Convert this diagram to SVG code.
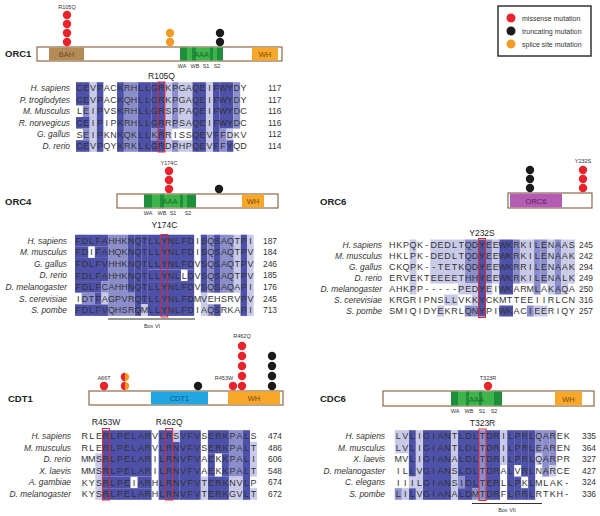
<svg xmlns="http://www.w3.org/2000/svg" width="600" height="516" viewBox="0 0 600 516">
<style>
text{font-family:"Liberation Sans",Arial,sans-serif}
.sp{font-size:8.4px;font-style:italic;fill:#333;text-anchor:end}
.aa{font-size:9px;fill:#333;text-anchor:middle}
.num{font-size:8.4px;fill:#333}
.mut{font-size:8.5px;fill:#222;text-anchor:middle}
.sm{font-size:5.5px;fill:#333;text-anchor:middle}
.pl{font-size:9.5px;font-weight:bold;fill:#222}
.dl{font-size:7.5px;text-anchor:middle}
.lg{font-size:7px;fill:#333}
.d{fill:#4d51a9}.m{fill:#8c8ecb}.l{fill:#c9cae7}
.rb{fill:none;stroke:#e3242b;stroke-width:1}
.bar{fill:#fff;stroke:#8b6a48;stroke-width:1.2}
.red{fill:#e8232b}.blk{fill:#1b1b1b}.org{fill:#f49b25}
.aaa{fill:#3db54a}.aad{fill:#1f8f3c}.wh{fill:#f7a72a}
.ln{stroke:#333;stroke-width:1.2}
</style>

<g id="legend">
<rect x="498" y="6" width="93" height="50" fill="#fff" stroke="#333" stroke-width="1.5"/>
<circle class="red" cx="511" cy="18" r="4.5"/>
<circle class="blk" cx="511" cy="31" r="4.5"/>
<circle class="org" cx="511" cy="44" r="4.5"/>
<text class="lg" x="522" y="20.5">missense mutation</text>
<text class="lg" x="522" y="33.5">truncating mutation</text>
<text class="lg" x="522" y="46.5">splice site mutation</text>
</g>

<g id="orc1">
<text class="pl" x="5" y="57">ORC1</text>
<rect class="bar" x="37" y="47" width="245" height="14"/>
<rect x="49" y="47.6" width="35" height="12.8" fill="#b48a55"/>
<text class="dl" x="66.5" y="57" fill="#6b4a28">BAH</text>
<rect class="aaa" x="180" y="47.6" width="43" height="12.8"/>
<rect class="aad" x="180" y="47.6" width="7" height="12.8"/>
<rect class="aad" x="192" y="47.6" width="4" height="12.8"/>
<rect class="aad" x="210" y="47.6" width="3" height="12.8"/>
<rect class="aad" x="217" y="47.6" width="6" height="12.8"/>
<text class="dl" x="201.5" y="57" fill="#1a6a2a">AAA</text>
<rect class="wh" x="252" y="47.6" width="26" height="12.8"/>
<text class="dl" x="265" y="57" fill="#7a4a10">WH</text>
<text class="sm" x="182" y="68">WA</text><text class="sm" x="195" y="68">WB</text><text class="sm" x="206" y="68">S1</text><text class="sm" x="217" y="68">S2</text>
<text class="sm" x="67" y="9">R105Q</text>
<circle class="red" cx="67" cy="15" r="4.2"/><circle class="red" cx="67" cy="24" r="4.2"/><circle class="red" cx="67" cy="33" r="4.2"/><circle class="red" cx="67" cy="42" r="4.2"/>
<circle class="org" cx="170" cy="33" r="4.2"/><circle class="org" cx="170" cy="42" r="4.2"/>
<circle class="blk" cx="220" cy="33" r="4.2"/><circle class="blk" cx="220" cy="42" r="4.2"/>
</g>

<g id="orc1-align">
<g transform="translate(76 82.2) scale(6.84 11.6)">
<g class="d"><rect x="0" y="0" width="2" height="2"/><rect x="0" y="3" width="2" height="1"/><rect x="0" y="5" width="2" height="1"/><rect x="3" y="0" width="1" height="6"/><rect x="6" y="0" width="1" height="6"/><rect x="9" y="0" width="2" height="6"/><rect x="11" y="0" width="2" height="4"/><rect x="11" y="5" width="2" height="1"/><rect x="12" y="4" width="1" height="1"/><rect x="17" y="0" width="2" height="6"/><rect x="20" y="0" width="1" height="6"/><rect x="21" y="0" width="2" height="4"/><rect x="22" y="5" width="1" height="1"/></g>
<g class="m"><rect x="1" y="2" width="1" height="1"/><rect x="1" y="4" width="1" height="1"/><rect x="7" y="0" width="2" height="6"/><rect x="11" y="4" width="1" height="1"/><rect x="14" y="0" width="1" height="4"/><rect x="14" y="5" width="1" height="1"/><rect x="21" y="4" width="1" height="2"/><rect x="23" y="0" width="1" height="4"/></g>
<g class="l"><rect x="2" y="0" width="1" height="6"/><rect x="13" y="0" width="1" height="6"/><rect x="15" y="0" width="2" height="4"/><rect x="15" y="5" width="2" height="1"/><rect x="19" y="0" width="1" height="6"/><rect x="22" y="4" width="1" height="1"/></g>
</g>
<text class="mut" x="161.5" y="79">R105Q</text>
<text class="sp" x="70" y="91">H. sapiens</text>
<text class="sp" x="70" y="102.6">P. troglodytes</text>
<text class="sp" x="70" y="114.2">M. Musculus</text>
<text class="sp" x="70" y="125.8">R. norvegicus</text>
<text class="sp" x="70" y="137.4">G. gallus</text>
<text class="sp" x="70" y="149">D. rerio</text>
<text class="aa" y="91.2" x="79.4 86.2 93.1 99.9 106.8 113.6 120.4 127.3 134.1 141 147.8 154.6 161.5 168.3 175.2 182 188.8 195.7 202.5 209.4 216.2 223 229.9 236.7 243.6">CEVPACKRHLLGRKPGAQEIFWYDY</text>
<text class="aa" y="102.8" x="79.4 86.2 93.1 99.9 106.8 113.6 120.4 127.3 134.1 141 147.8 154.6 161.5 168.3 175.2 182 188.8 195.7 202.5 209.4 216.2 223 229.9 236.7 243.6">CEVPACKQHLLGRKPGAQEIFWYDY</text>
<text class="aa" y="114.4" x="79.4 86.2 93.1 99.9 106.8 113.6 120.4 127.3 134.1 141 147.8 154.6 161.5 168.3 175.2 182 188.8 195.7 202.5 209.4 216.2 223 229.9 236.7 243.6">LEIPVSKRHLLGRSPPAQEIFWYDC</text>
<text class="aa" y="126" x="79.4 86.2 93.1 99.9 106.8 113.6 120.4 127.3 134.1 141 147.8 154.6 161.5 168.3 175.2 182 188.8 195.7 202.5 209.4 216.2 223 229.9 236.7 243.6">CEIPIPKRHLLGRRPSAQEIFWYDC</text>
<text class="aa" y="137.6" x="79.4 86.2 93.1 99.9 106.8 113.6 120.4 127.3 134.1 141 147.8 154.6 161.5 168.3 175.2 182 188.8 195.7 202.5 209.4 216.2 223 229.9 236.7 243.6">SEIPKNKQKLLKRRISSQEVFFDKV</text>
<text class="aa" y="149.2" x="79.4 86.2 93.1 99.9 106.8 113.6 120.4 127.3 134.1 141 147.8 154.6 161.5 168.3 175.2 182 188.8 195.7 202.5 209.4 216.2 223 229.9 236.7 243.6">CEVPQYKRKLLGRDPHPQEVFFYQD</text>
<text class="num" x="268" y="91">117</text><text class="num" x="268" y="102.6">117</text><text class="num" x="268" y="114.2">116</text><text class="num" x="268" y="125.8">116</text><text class="num" x="268" y="137.4">112</text><text class="num" x="268" y="149">114</text>
<rect class="rb" x="158.1" y="82" width="6.84" height="70"/>
</g>

<g id="orc4">
<text class="pl" x="5" y="205">ORC4</text>
<rect class="bar" x="117" y="194" width="161" height="14"/>
<rect class="aaa" x="144" y="194.6" width="52" height="12.8"/>
<rect class="aad" x="144" y="194.6" width="8" height="12.8"/>
<rect class="aad" x="160" y="194.6" width="4" height="12.8"/>
<rect class="aad" x="180" y="194.6" width="3" height="12.8"/>
<rect class="aad" x="187" y="194.6" width="9" height="12.8"/>
<text class="dl" x="170" y="204" fill="#1a6a2a">AAA</text>
<rect class="wh" x="242" y="194.6" width="22" height="12.8"/>
<text class="dl" x="253" y="204" fill="#7a4a10">WH</text>
<text class="sm" x="148" y="215">WA</text><text class="sm" x="162" y="215">WB</text><text class="sm" x="173" y="215">S1</text><text class="sm" x="188" y="215">S2</text>
<text class="sm" x="169" y="165">Y174C</text>
<circle class="red" cx="169" cy="171" r="4.2"/><circle class="red" cx="169" cy="180" r="4.2"/><circle class="red" cx="169" cy="189" r="4.2"/>
<circle class="blk" cx="219" cy="189" r="4.2"/>
</g>

<g id="orc4-align">
<g transform="translate(75 234.7) scale(6.62 11.6)">
<g class="d"><rect x="0" y="0" width="5" height="1"/><rect x="0" y="1" width="2" height="1"/><rect x="3" y="1" width="2" height="1"/><rect x="0" y="2" width="5" height="2"/><rect x="0" y="4" width="4" height="1"/><rect x="3" y="5" width="1" height="1"/><rect x="0" y="6" width="5" height="1"/><rect x="8" y="0" width="1" height="5"/><rect x="9" y="0" width="1" height="7"/><rect x="10" y="0" width="1" height="6"/><rect x="11" y="0" width="7" height="3"/><rect x="11" y="3" width="5" height="1"/><rect x="17" y="3" width="1" height="1"/><rect x="11" y="4" width="7" height="3"/><rect x="19" y="0" width="1" height="5"/><rect x="21" y="0" width="1" height="5"/><rect x="21" y="6" width="1" height="1"/><rect x="25" y="0" width="1" height="7"/></g>
<g class="m"><rect x="4" y="4" width="1" height="1"/><rect x="5" y="0" width="3" height="7"/><rect x="8" y="5" width="1" height="2"/><rect x="1" y="5" width="2" height="1"/><rect x="20" y="0" width="1" height="5"/><rect x="20" y="6" width="1" height="1"/><rect x="22" y="0" width="2" height="5"/></g>
<g class="l"><rect x="4" y="5" width="1" height="1"/><rect x="10" y="6" width="1" height="1"/><rect x="19" y="5" width="1" height="2"/><rect x="24" y="0" width="1" height="5"/><rect x="26" y="0" width="1" height="7"/></g>
</g>
<text class="mut" x="164.4" y="228">Y174C</text>
<text class="sp" x="67" y="243.5">H. sapiens</text>
<text class="sp" x="67" y="255.1">M. musculus</text>
<text class="sp" x="67" y="266.7">G. gallus</text>
<text class="sp" x="67" y="278.3">D. rerio</text>
<text class="sp" x="67" y="289.9">D. melanogaster</text>
<text class="sp" x="67" y="301.5">S. cerevisiae</text>
<text class="sp" x="67" y="313.1">S. pombe</text>
<text class="aa" y="243.7" x="78.3 84.9 91.5 98.2 104.8 111.4 118 124.6 131.3 137.9 144.5 151.1 157.7 164.4 171 177.6 184.2 190.8 197.5 204.1 210.7 217.3 223.9 230.6 237.2 243.8 250.4">FDLFAHHKNQTLLYNLFDISQSAQTPI</text>
<text class="aa" y="255.3" x="78.3 84.9 91.5 98.2 104.8 111.4 118 124.6 131.3 137.9 144.5 151.1 157.7 164.4 171 177.6 184.2 190.8 197.5 204.1 210.7 217.3 223.9 230.6 237.2 243.8 250.4">FDIFAHQKNQTLLYNLFDISQSAQTPV</text>
<text class="aa" y="266.9" x="78.3 84.9 91.5 98.2 104.8 111.4 118 124.6 131.3 137.9 144.5 151.1 157.7 164.4 171 177.6 184.2 190.8 197.5 204.1 210.7 217.3 223.9 230.6 237.2 243.8 250.4">FDLFVHHKNQTLLYNLFDVSQSAQTPV</text>
<text class="aa" y="278.5" x="78.3 84.9 91.5 98.2 104.8 111.4 118 124.6 131.3 137.9 144.5 151.1 157.7 164.4 171 177.6 184.2 190.8 197.5 204.1 210.7 217.3 223.9 230.6 237.2 243.8 250.4">FDLFAHHKNQTLLYNLLDVSQSAQTPV</text>
<text class="aa" y="290.1" x="78.3 84.9 91.5 98.2 104.8 111.4 118 124.6 131.3 137.9 144.5 151.1 157.7 164.4 171 177.6 184.2 190.8 197.5 204.1 210.7 217.3 223.9 230.6 237.2 243.8 250.4">FDLFCAHHNQTLLYNLFDVSQSAQAPI</text>
<text class="aa" y="301.7" x="78.3 84.9 91.5 98.2 104.8 111.4 118 124.6 131.3 137.9 144.5 151.1 157.7 164.4 171 177.6 184.2 190.8 197.5 204.1 210.7 217.3 223.9 230.6 237.2 243.8 250.4">IDTFAGPVRQTLLYNLFDMVEHSRVPV</text>
<text class="aa" y="313.3" x="78.3 84.9 91.5 98.2 104.8 111.4 118 124.6 131.3 137.9 144.5 151.1 157.7 164.4 171 177.6 184.2 190.8 197.5 204.1 210.7 217.3 223.9 230.6 237.2 243.8 250.4">FDLFVQHSRQMLLYNLFDIAQSRKAPI</text>
<text class="num" x="263" y="243.5">187</text><text class="num" x="263" y="255.1">184</text><text class="num" x="263" y="266.7">246</text><text class="num" x="263" y="278.3">185</text><text class="num" x="263" y="289.9">176</text><text class="num" x="263" y="301.5">245</text><text class="num" x="263" y="313.1">713</text>
<rect class="rb" x="161.1" y="234.5" width="6.62" height="82.5"/>
<line class="ln" x1="108" y1="319" x2="195" y2="319"/>
<text class="sm" x="152" y="328">Box VI</text>
</g>

<g id="orc6">
<text class="pl" x="320" y="205">ORC6</text>
<rect class="bar" x="508" y="193" width="84" height="15"/>
<rect x="510" y="193.6" width="52" height="13.8" fill="#b45cb4"/>
<text class="dl" x="536" y="203.5" fill="#5a1f5a">ORC6</text>
<text class="sm" x="583" y="163">Y232S</text>
<circle class="blk" cx="530" cy="170" r="4.2"/><circle class="blk" cx="530" cy="179" r="4.2"/><circle class="blk" cx="530" cy="188" r="4.2"/>
<circle class="red" cx="583" cy="170" r="4.2"/><circle class="red" cx="583" cy="179" r="4.2"/><circle class="red" cx="583" cy="188" r="4.2"/>
</g>

<g id="orc6-align">
<g transform="translate(388.85 239.5) scale(6.9 11)">
<g class="d"><rect x="13" y="0" width="1" height="7"/><rect x="16" y="0" width="2" height="5"/><rect x="16" y="6" width="2" height="1"/></g>
<g class="m"><rect x="11" y="0" width="2" height="4"/><rect x="11" y="6" width="2" height="1"/><rect x="14" y="0" width="1" height="4"/><rect x="18" y="0" width="1" height="4"/><rect x="21" y="0" width="1" height="5"/><rect x="22" y="0" width="1" height="4"/><rect x="24" y="0" width="1" height="5"/><rect x="20" y="6" width="1" height="1"/></g>
<g class="l"><rect x="3" y="0" width="1" height="5"/><rect x="6" y="0" width="5" height="4"/><rect x="15" y="0" width="1" height="4"/><rect x="19" y="0" width="2" height="4"/><rect x="23" y="0" width="1" height="5"/><rect x="25" y="0" width="1" height="5"/><rect x="26" y="0" width="1" height="4"/><rect x="10" y="4" width="3" height="1"/><rect x="14" y="4" width="1" height="1"/><rect x="8" y="5" width="2" height="1"/><rect x="12" y="5" width="1" height="1"/><rect x="7" y="6" width="1" height="1"/><rect x="21" y="6" width="2" height="1"/></g>
</g>
<text class="mut" x="482" y="236">Y232S</text>
<text class="sp" x="382" y="248">H. sapiens</text>
<text class="sp" x="382" y="259">M. musculus</text>
<text class="sp" x="382" y="270">G. gallus</text>
<text class="sp" x="382" y="281">D. rerio</text>
<text class="sp" x="382" y="292">D. melanogaster</text>
<text class="sp" x="382" y="303">S. cerevisiae</text>
<text class="sp" x="382" y="314">S. pombe</text>
<text class="aa" y="248.2" x="392.3 399.2 406.1 413 419.9 426.8 433.7 440.6 447.5 454.4 461.3 468.2 475.1 482 488.9 495.8 502.7 509.6 516.5 523.4 530.3 537.2 544.1 551 557.9 564.8 571.7">HKPQK-DEDLTQDYEEWKRKILENAAS</text>
<text class="aa" y="259.2" x="392.3 399.2 406.1 413 419.9 426.8 433.7 440.6 447.5 454.4 461.3 468.2 475.1 482 488.9 495.8 502.7 509.6 516.5 523.4 530.3 537.2 544.1 551 557.9 564.8 571.7">HKLPK-DEDLTQDYEEWKRKILENAAK</text>
<text class="aa" y="270.2" x="392.3 399.2 406.1 413 419.9 426.8 433.7 440.6 447.5 454.4 461.3 468.2 475.1 482 488.9 495.8 502.7 509.6 516.5 523.4 530.3 537.2 544.1 551 557.9 564.8 571.7">CKQPK--TETKQDYEEWKRRILENAAK</text>
<text class="aa" y="281.2" x="392.3 399.2 406.1 413 419.9 426.8 433.7 440.6 447.5 454.4 461.3 468.2 475.1 482 488.9 495.8 502.7 509.6 516.5 523.4 530.3 537.2 544.1 551 557.9 564.8 571.7">ERVEKTEEEETHHYEEWKRKILENALK</text>
<text class="aa" y="292.2" x="392.3 399.2 406.1 413 419.9 426.8 433.7 440.6 447.5 454.4 461.3 468.2 475.1 482 488.9 495.8 502.7 509.6 516.5 523.4 530.3 537.2 544.1 551 557.9 564.8 571.7">AHKPP-----PEDYEIWKARMLAKAQA</text>
<text class="aa" y="303.2" x="392.3 399.2 406.1 413 419.9 426.8 433.7 440.6 447.5 454.4 461.3 468.2 475.1 482 488.9 495.8 502.7 509.6 516.5 523.4 530.3 537.2 544.1 551 557.9 564.8 571.7">KRGRIPNSLLVKKYCKMTTEEIIRLCN</text>
<text class="aa" y="314.2" x="392.3 399.2 406.1 413 419.9 426.8 433.7 440.6 447.5 454.4 461.3 468.2 475.1 482 488.9 495.8 502.7 509.6 516.5 523.4 530.3 537.2 544.1 551 557.9 564.8 571.7">SMIQIDYEKRLQNYPIWKACIEERIQY</text>
<text class="num" x="579" y="248">245</text><text class="num" x="579" y="259">242</text><text class="num" x="579" y="270">294</text><text class="num" x="579" y="281">249</text><text class="num" x="579" y="292">250</text><text class="num" x="579" y="303">316</text><text class="num" x="579" y="314">257</text>
<rect class="rb" x="478.55" y="238.5" width="6.9" height="79"/>
</g>

<g id="cdt1">
<text class="pl" x="8" y="402">CDT1</text>
<rect class="bar" x="89" y="391" width="194" height="14"/>
<rect x="151" y="391.6" width="57" height="12.8" fill="#22a6e2"/>
<text class="dl" x="179.5" y="401" fill="#0d5a8a">CDT1</text>
<rect class="wh" x="228" y="391.6" width="52" height="12.8"/>
<text class="dl" x="254" y="401" fill="#7a4a10">WH</text>
<text class="sm" x="104" y="380">A66T</text>
<circle class="red" cx="104" cy="386" r="4.2"/>
<circle class="org" cx="125" cy="377" r="4.2"/><path class="red" d="M125 372.8A4.2 4.2 0 0 0 125 381.2Z"/>
<circle class="org" cx="125" cy="386" r="4.2"/><path class="red" d="M125 381.8A4.2 4.2 0 0 0 125 390.2Z"/>
<circle class="blk" cx="198" cy="386" r="4.2"/>
<text class="sm" x="224" y="380">R453W</text>
<circle class="red" cx="233" cy="386" r="4.2"/>
<text class="sm" x="242" y="338">R462Q</text>
<circle class="red" cx="242" cy="346" r="4.2"/><circle class="red" cx="242" cy="356" r="4.2"/><circle class="red" cx="242" cy="366" r="4.2"/><circle class="red" cx="242" cy="376" r="4.2"/><circle class="red" cx="242" cy="386" r="4.2"/>
<circle class="blk" cx="272" cy="356" r="4.2"/><circle class="blk" cx="272" cy="366" r="4.2"/><circle class="blk" cx="272" cy="376" r="4.2"/><circle class="blk" cx="272" cy="386" r="4.2"/>
</g>

<g id="cdt1-align">
<g transform="translate(81.3 430.2) scale(7.03 11.6)">
<g class="d"><rect x="3" y="0" width="7" height="4"/><rect x="3" y="4" width="4" height="1"/><rect x="8" y="4" width="2" height="1"/><rect x="3" y="5" width="7" height="1"/><rect x="11" y="0" width="2" height="6"/><rect x="13" y="1" width="1" height="5"/><rect x="14" y="0" width="3" height="6"/><rect x="18" y="0" width="3" height="2"/><rect x="18" y="2" width="1" height="2"/><rect x="20" y="2" width="1" height="2"/><rect x="18" y="4" width="3" height="2"/><rect x="23" y="0" width="1" height="6"/></g>
<g class="m"><rect x="21" y="0" width="2" height="4"/></g>
<g class="l"><rect x="2" y="2" width="1" height="4"/><rect x="13" y="0" width="1" height="1"/><rect x="17" y="4" width="1" height="2"/><rect x="21" y="4" width="2" height="2"/><rect x="24" y="1" width="1" height="3"/><rect x="24" y="5" width="1" height="1"/></g>
</g>
<text class="mut" x="106" y="425">R453W</text>
<text class="mut" x="169.2" y="425">R462Q</text>
<text class="sp" x="71" y="439">H. sapiens</text>
<text class="sp" x="71" y="450.6">M. musculus</text>
<text class="sp" x="71" y="462.2">D. rerio</text>
<text class="sp" x="71" y="473.8">X. laevis</text>
<text class="sp" x="71" y="485.4">A. gambiae</text>
<text class="sp" x="71" y="497">D. melanogaster</text>
<text class="aa" y="439.2" x="84.8 91.8 98.9 105.9 112.9 120 127 134 141 148.1 155.1 162.1 169.2 176.2 183.2 190.3 197.3 204.3 211.3 218.4 225.4 232.4 239.5 246.5 253.5">RLERLPELARVLRSVFVSERKPALS</text>
<text class="aa" y="450.8" x="84.8 91.8 98.9 105.9 112.9 120 127 134 141 148.1 155.1 162.1 169.2 176.2 183.2 190.3 197.3 204.3 211.3 218.4 225.4 232.4 239.5 246.5 253.5">RLERLPELARVLRNVFVSERKPALT</text>
<text class="aa" y="462.4" x="84.8 91.8 98.9 105.9 112.9 120 127 134 141 148.1 155.1 162.1 169.2 176.2 183.2 190.3 197.3 204.3 211.3 218.4 225.4 232.4 239.5 246.5 253.5">MMSRLPELARILRNVFVAEKKPALI</text>
<text class="aa" y="474" x="84.8 91.8 98.9 105.9 112.9 120 127 134 141 148.1 155.1 162.1 169.2 176.2 183.2 190.3 197.3 204.3 211.3 218.4 225.4 232.4 239.5 246.5 253.5">MMSRLPELARILRNVFVAEKKPALT</text>
<text class="aa" y="485.6" x="84.8 91.8 98.9 105.9 112.9 120 127 134 141 148.1 155.1 162.1 169.2 176.2 183.2 190.3 197.3 204.3 211.3 218.4 225.4 232.4 239.5 246.5 253.5">KYSRLPEIARHLRNVFVTERKNVLP</text>
<text class="aa" y="497.2" x="84.8 91.8 98.9 105.9 112.9 120 127 134 141 148.1 155.1 162.1 169.2 176.2 183.2 190.3 197.3 204.3 211.3 218.4 225.4 232.4 239.5 246.5 253.5">KYSRLPELARHLRNVFVTERKGVLT</text>
<text class="num" x="268" y="439">474</text><text class="num" x="268" y="450.6">486</text><text class="num" x="268" y="462.2">606</text><text class="num" x="268" y="473.8">548</text><text class="num" x="268" y="485.4">674</text><text class="num" x="268" y="497">672</text>
<rect class="rb" x="102.4" y="428.5" width="7.03" height="71.5"/>
<rect class="rb" x="165.66" y="428.5" width="7.03" height="71.5"/>
</g>

<g id="cdc6">
<text class="pl" x="320" y="402">CDC6</text>
<rect class="bar" x="383" y="391" width="211" height="15"/>
<rect class="aaa" x="451" y="391.6" width="51" height="13.8"/>
<rect class="aad" x="451" y="391.6" width="7" height="13.8"/>
<rect class="aad" x="466" y="391.6" width="3" height="13.8"/>
<rect class="aad" x="479" y="391.6" width="3" height="13.8"/>
<rect class="aad" x="494" y="391.6" width="8" height="13.8"/>
<text class="dl" x="476.5" y="401.5" fill="#1a6a2a">AAA</text>
<rect class="wh" x="555" y="391.6" width="27" height="13.8"/>
<text class="dl" x="568.5" y="401.5" fill="#7a4a10">WH</text>
<text class="sm" x="455" y="413">WA</text><text class="sm" x="469" y="413">WB</text><text class="sm" x="482" y="413">S1</text><text class="sm" x="494" y="413">S2</text>
<text class="sm" x="488" y="380">T323R</text>
<circle class="red" cx="488" cy="386" r="4.2"/>
</g>

<g id="cdc6-align">
<g transform="translate(394.8 430.2) scale(7.02 11.6)">
<g class="d"><rect x="2" y="0" width="1" height="4"/><rect x="2" y="5" width="1" height="1"/><rect x="4" y="0" width="4" height="6"/><rect x="9" y="0" width="1" height="4"/><rect x="9" y="5" width="1" height="1"/><rect x="10" y="0" width="1" height="6"/><rect x="11" y="0" width="1" height="5"/><rect x="13" y="0" width="2" height="6"/><rect x="16" y="0" width="1" height="6"/><rect x="17" y="0" width="1" height="3"/><rect x="17" y="4" width="1" height="2"/><rect x="18" y="0" width="1" height="4"/><rect x="18" y="5" width="1" height="1"/><rect x="19" y="0" width="1" height="6"/></g>
<g class="m"><rect x="0" y="5" width="1" height="1"/><rect x="9" y="4" width="1" height="1"/><rect x="11" y="5" width="1" height="1"/><rect x="12" y="0" width="1" height="6"/><rect x="20" y="0" width="1" height="2"/><rect x="21" y="0" width="1" height="4"/><rect x="22" y="0" width="1" height="3"/></g>
<g class="l"><rect x="0" y="0" width="2" height="2"/><rect x="1" y="5" width="1" height="1"/><rect x="2" y="4" width="1" height="1"/><rect x="3" y="0" width="1" height="6"/><rect x="8" y="0" width="1" height="6"/><rect x="15" y="0" width="1" height="3"/><rect x="20" y="2" width="1" height="1"/><rect x="22" y="3" width="1" height="1"/></g>
</g>
<text class="mut" x="482.5" y="426">T323R</text>
<text class="sp" x="385" y="439">H. sapiens</text>
<text class="sp" x="385" y="450.6">M. musculus</text>
<text class="sp" x="385" y="462.2">X. laevis</text>
<text class="sp" x="385" y="473.8">D. melanogaster</text>
<text class="sp" x="385" y="485.4">C. elegans</text>
<text class="sp" x="385" y="497">S. pombe</text>
<text class="aa" y="439.2" x="398.3 405.3 412.3 419.4 426.4 433.4 440.4 447.4 454.5 461.5 468.5 475.5 482.5 489.6 496.6 503.6 510.6 517.6 524.7 531.7 538.7 545.7 552.7 559.8 566.8">LVLIGIANTLDLTDRILPRLQAREK</text>
<text class="aa" y="450.8" x="398.3 405.3 412.3 419.4 426.4 433.4 440.4 447.4 454.5 461.5 468.5 475.5 482.5 489.6 496.6 503.6 510.6 517.6 524.7 531.7 538.7 545.7 552.7 559.8 566.8">LVLIGIANTLDLTDRILPRLEAREN</text>
<text class="aa" y="462.4" x="398.3 405.3 412.3 419.4 426.4 433.4 440.4 447.4 454.5 461.5 468.5 475.5 482.5 489.6 496.6 503.6 510.6 517.6 524.7 531.7 538.7 545.7 552.7 559.8 566.8">MVLIGIANALDLTDRILPRLQARPR</text>
<text class="aa" y="474" x="398.3 405.3 412.3 419.4 426.4 433.4 440.4 447.4 454.5 461.5 468.5 475.5 482.5 489.6 496.6 503.6 510.6 517.6 524.7 531.7 538.7 545.7 552.7 559.8 566.8">ILLVGIANSLDLTDRALVRLNARCE</text>
<text class="aa" y="485.6" x="398.3 405.3 412.3 419.4 426.4 433.4 440.4 447.4 454.5 461.5 468.5 475.5 482.5 489.6 496.6 503.6 510.6 517.6 524.7 531.7 538.7 545.7 552.7 559.8 566.8">IIILGIANSIDLTERLLPKLMLAK-</text>
<text class="aa" y="497.2" x="398.3 405.3 412.3 419.4 426.4 433.4 440.4 447.4 454.5 461.5 468.5 475.5 482.5 489.6 496.6 503.6 510.6 517.6 524.7 531.7 538.7 545.7 552.7 559.8 566.8">LILVGIANALDMTDRFLPRLRTKH-</text>
<text class="num" x="582" y="439">335</text><text class="num" x="582" y="450.6">364</text><text class="num" x="582" y="462.2">327</text><text class="num" x="582" y="473.8">427</text><text class="num" x="582" y="485.4">324</text><text class="num" x="582" y="497">336</text>
<rect class="rb" x="479" y="429" width="7.02" height="71.5"/>
<line class="ln" x1="472" y1="503.5" x2="542" y2="503.5"/>
<text class="sm" x="507" y="512">Box VII</text>
</g>

<g id="connectors"></g>
</svg>
